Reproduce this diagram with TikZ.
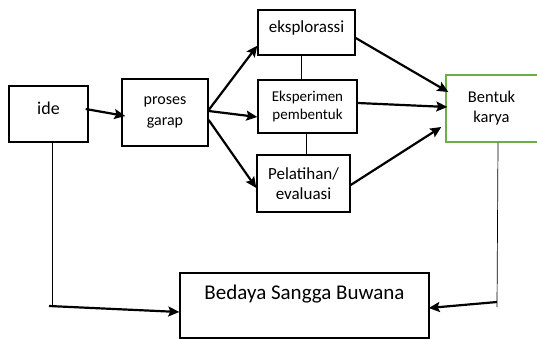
\documentclass[tikz,border=0pt]{standalone}
\usepackage{fontspec}
\setmainfont{Carlito}
\usetikzlibrary{arrows.meta}
\definecolor{boxgreen}{HTML}{70AD47}

\begin{document}
\begin{tikzpicture}[x=1pt, y=-1pt,
    box/.style={draw, line width=1.4pt, inner sep=2pt, align=center},
    flow/.style={line width=2.2pt, -{Stealth[length=11pt, width=10pt, inset=2pt]}},
    link/.style={line width=0.7pt}]
      \useasboundingbox (0,0) rectangle (537,339);

      \node[box, minimum width=79pt, minimum height=56pt, text height=14pt, text depth=12pt, font=\fontsize{18}{22}\selectfont] (ide) at (48.5,114) {ide};
      \node[box, minimum width=86pt, minimum height=67pt, font=\fontsize{16}{21}\selectfont] (proses) at (165,112.5) {proses\\garap};
      \node[box, minimum width=97pt, minimum height=45pt, text height=12pt, text depth=12pt, font=\fontsize{17}{21}\selectfont] (eksplorasi) at (306.5,32.5) {eksplorassi};
      \node[box, minimum width=99pt, minimum height=53pt, font=\fontsize{15}{17.5}\selectfont] (eksperimen) at (307.5,106.5) {Eksperimen\\pembentuk};
      \node[box, minimum width=93pt, minimum height=57pt, font=\fontsize{17}{20}\selectfont] (pelatihan) at (303.5,183.5) {Pelatihan/\\evaluasi};
      \node[box, draw=boxgreen, minimum width=94pt, minimum height=67pt, font=\fontsize{16.5}{20}\selectfont] (bentuk) at (493,108.5) {\hspace*{-3pt}Bentuk\\\hspace*{-3pt}karya};
      \node[box, minimum width=249pt, minimum height=65pt, text height=15pt, text depth=27pt, font=\fontsize{21}{25}\selectfont] (bedaya) at (304.5,305.5) {Bedaya Sangga Buwana};

      \coordinate (kiri) at (52,306);
      \coordinate (kanan) at (497,302);

      \draw[flow] ([xshift=-3pt,yshift=5pt]ide.east) -- ([xshift=4pt,yshift=-3.5pt]proses.west);
      \draw[flow] ([yshift=2.5pt]proses.east) -- ([yshift=10pt]eksplorasi.south west);
      \draw[flow] ([yshift=1.5pt]proses.east) -- ([yshift=-10.5pt]eksperimen.west);
      \draw[flow] ([yshift=-7.5pt]proses.east) -- ([yshift=-4.5pt]pelatihan.west);
      \draw[flow] ([yshift=-5.5pt]eksplorasi.east) -- ([xshift=3pt,yshift=16.5pt]bentuk.west);
      \draw[flow] ([yshift=3.5pt]eksperimen.east) -- ([xshift=2pt,yshift=1.5pt]bentuk.west);
      \draw[flow] ([yshift=-1.5pt]pelatihan.east) -- ([xshift=-4pt,yshift=-18.5pt]bentuk.west);

      \draw[link] ([xshift=-5.5pt]eksplorasi.south) -- ([xshift=-6.5pt]eksperimen.north);
      \draw[link] ([xshift=-1.5pt]eksperimen.south) -- ([xshift=2.5pt]pelatihan.north);

      \draw[link] ([xshift=3.5pt]ide.south) -- (kiri);
      \draw[flow] ([xshift=-3pt]kiri) -- ([yshift=-6.5pt]bedaya.west);
      \draw[link] ([xshift=5pt]bentuk.south) -- ([yshift=-5pt]kanan);
      \draw[flow] (kanan) -- ([xshift=-1pt,yshift=-2.5pt]bedaya.east);
    \end{tikzpicture}
\end{document}
